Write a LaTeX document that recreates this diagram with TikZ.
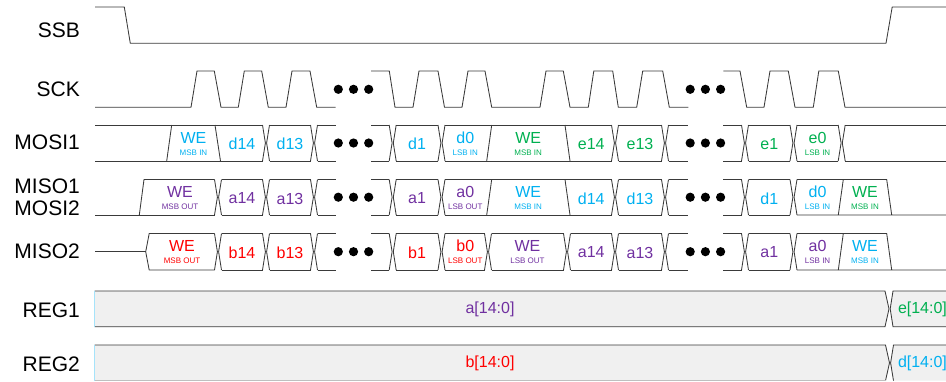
\documentclass[tikz,border=0pt]{standalone}
\usepackage{fontspec}
\setmainfont{Liberation Sans}
\definecolor{cy}{HTML}{00B0F0}
\definecolor{pu}{HTML}{7030A0}
\definecolor{rd}{HTML}{FF0000}
\definecolor{gn}{HTML}{00B050}
\definecolor{wavec}{HTML}{3A3A3A}
\definecolor{regf}{HTML}{F0F0F0}
\tikzset{
  wave/.style={draw=wavec, line width=0.85pt, line join=miter},
  regline/.style={draw=wavec, line width=0.85pt},
  lbl/.style={anchor=east, font=\fontsize{21}{24}\selectfont, inner sep=0pt},
  bigtxt/.style={font=\fontsize{16}{18}\selectfont, inner sep=0pt},
  smalltxt/.style={font=\fontsize{8}{9}\selectfont, inner sep=0pt},
}
\newcommand\Xat[3]{%
  \draw[wave] ({#1-3.5},#2) -- ({#1-0.6},{(#2+#3)/2}) -- ({#1-3.5},#3);
  \draw[wave] ({#1+3.5},#2) -- ({#1+0.6},{(#2+#3)/2}) -- ({#1+3.5},#3);}
\newcommand\Rails[4]{\draw[wave] (#1,#3) -- (#2,#3) (#1,#4) -- (#2,#4);}
\newcommand\Dots[2]{%
  \fill[black] (#1,#2) circle[radius=4.6pt];
  \fill[black] ({#1+15.2},#2) circle[radius=4.6pt];
  \fill[black] ({#1+30.4},#2) circle[radius=4.6pt];}
\newcommand\CellT[6]{%
  \node[bigtxt, text=#4] (#1a) at (#2,{#3+12.7}) {#5};
  \node[smalltxt, text=#4] (#1b) at (#2,{#3+27.4}) {#6};}
\newcommand\CellS[5]{%
  \node[bigtxt, text=#4] (#1) at (#2,{#3+19}) {#5};}
\begin{document}
\begin{tikzpicture}[x=1pt,y=-1pt]
\useasboundingbox (0,0) rectangle (946,381);

% ---------- labels ----------
\node[lbl] (lSSB) at (80,30) {SSB};
\node[lbl] (lSCK) at (80,89.5) {SCK};
\node[lbl] (lMOSI1) at (80,142.5) {MOSI1};
\node[lbl] (lMISO1) at (80,186) {MISO1};
\node[lbl] (lMOSI2) at (80,208.5) {MOSI2};
\node[lbl] (lMISO2) at (80,251.7) {MISO2};
\node[lbl] (lREG1) at (80,310) {REG1};
\node[lbl] (lREG2) at (80,364) {REG2};

% ---------- SSB ----------
\draw[wave] (95,7) -- (124.3,7) -- (130.3,43.3) -- (886,43.3) -- (892.2,7) -- (946,7);

% ---------- SCK ----------
\draw[wave] (95,107.3) -- (191,107.3) -- (197,71) -- (214.3,71) -- (221,107.3)
  -- (238.3,107.3) -- (244.3,71) -- (261.7,71) -- (268.3,107.3)
  -- (286,107.3) -- (292,71) -- (310,71) -- (316.7,107.3) -- (335.7,107.3);
\draw[wave] (371,71) -- (389.3,71) -- (395,107.3) -- (413,107.3) -- (419,71)
  -- (438,71) -- (444.5,107.3) -- (462,107.3) -- (468,71) -- (485,71) -- (491.7,107.3)
  -- (540,107.3) -- (546,71) -- (563.3,71) -- (570,107.3) -- (588.3,107.3)
  -- (593.8,71) -- (612.7,71) -- (618.3,107.3) -- (636.7,107.3) -- (642.7,71)
  -- (662.7,71) -- (669.3,107.3) -- (688.3,107.3);
\draw[wave] (723.3,71) -- (740,71) -- (746.7,107.3) -- (764,107.3) -- (770,71)
  -- (788.3,71) -- (795,107.3) -- (813.3,107.3) -- (818.8,71) -- (838.3,71)
  -- (845,107.3) -- (946,107.3);
\Dots{338.3}{89.3}
\Dots{690.2}{89.3}

% ---------- MOSI1 (t=125, b=161) ----------
\Rails{95}{262.5}{125}{161}
\draw[wave] (166.7,161) -- (171.7,125);
\draw[wave] (215,125) -- (220.5,161);
\Xat{266}{125}{161}
\Rails{269.5}{310.5}{125}{161}
\Xat{314}{125}{161}
\Rails{317.5}{335.7}{125}{161}
\Rails{371}{389.2}{125}{161}
\Xat{392.7}{125}{161}
\Rails{396.2}{438}{125}{161}
\Xat{441.5}{125}{161}
\Rails{445}{611.5}{125}{161}
\draw[wave] (486.7,161) -- (491.7,125);
\draw[wave] (565,125) -- (570,161);
\Xat{615}{125}{161}
\Rails{618.5}{661.5}{125}{161}
\Xat{665}{125}{161}
\Rails{668.5}{688.3}{125}{161}
\Rails{723.3}{741.5}{125}{161}
\Xat{745}{125}{161}
\Rails{748.5}{790}{125}{161}
\Xat{793.5}{125}{161}
\Rails{797}{838.2}{125}{161}
\Xat{841.7}{125}{161}
\Rails{845.2}{946}{125}{161}
\Dots{338.3}{143}
\Dots{690.2}{143}

\CellT{m1we}{193.5}{125}{cy}{WE}{MSB IN}
\CellS{m1d14}{242}{125}{cy}{d14}
\CellS{m1d13}{290}{125}{cy}{d13}
\CellS{m1d1}{417.1}{125}{cy}{d1}
\CellT{m1d0}{465.3}{125}{cy}{d0}{LSB IN}
\CellT{m1weg}{528.2}{125}{gn}{WE}{MSB IN}
\CellS{m1e14}{591.3}{125}{gn}{e14}
\CellS{m1e13}{640}{125}{gn}{e13}
\CellS{m1e1}{769.3}{125}{gn}{e1}
\CellT{m1e0}{817.6}{125}{gn}{e0}{LSB IN}

% ---------- MISO1 / MOSI2 (t=179.5, b=215) ----------
\draw[wave] (95,215) -- (214.5,215);
\draw[wave] (139.3,215) -- (144,179.5) -- (214.5,179.5);
\Xat{218}{179.5}{215}
\Rails{221.5}{262.5}{179.5}{215}
\Xat{266}{179.5}{215}
\Rails{269.5}{310.5}{179.5}{215}
\Xat{314}{179.5}{215}
\Rails{317.5}{335.7}{179.5}{215}
\Rails{371}{389.2}{179.5}{215}
\Xat{392.7}{179.5}{215}
\Rails{396.2}{438}{179.5}{215}
\Xat{441.5}{179.5}{215}
\Rails{445}{611.5}{179.5}{215}
\draw[wave] (486.7,215) -- (491.7,179.5);
\draw[wave] (565,179.5) -- (570,215);
\Xat{615}{179.5}{215}
\Rails{618.5}{661.5}{179.5}{215}
\Xat{665}{179.5}{215}
\Rails{668.5}{688.3}{179.5}{215}
\Rails{723.3}{741.5}{179.5}{215}
\Xat{745}{179.5}{215}
\Rails{748.5}{790}{179.5}{215}
\Xat{793.5}{179.5}{215}
\draw[wave] (797,179.5) -- (886.7,179.5) -- (891.7,215) (797,215) -- (946,215);
\draw[wave] (838.3,215) -- (843.3,179.5);
\Dots{338.3}{197.2}
\Dots{690.2}{197.2}

\CellT{s1we}{180}{179.5}{pu}{WE}{MSB OUT}
\CellS{s1a14}{242}{179.5}{pu}{a14}
\CellS{s1a13}{290}{179.5}{pu}{a13}
\CellS{s1a1}{417.1}{179.5}{pu}{a1}
\CellT{s1a0}{465.3}{179.5}{pu}{a0}{LSB OUT}
\CellT{s1wec}{528.2}{179.5}{cy}{WE}{MSB IN}
\CellS{s1d14}{591.3}{179.5}{cy}{d14}
\CellS{s1d13}{640}{179.5}{cy}{d13}
\CellS{s1d1}{769.3}{179.5}{cy}{d1}
\CellT{s1d0}{817.6}{179.5}{cy}{d0}{LSB IN}
\CellT{s1weg}{865}{179.5}{gn}{WE}{MSB IN}

% ---------- MISO2 (t=233.5, b=270) ----------
\draw[wave] (95,251.75) -- (145.7,251.75);
\draw[wave] (214.5,233.5) -- (149.2,233.5) -- (145.7,251.75) -- (149.2,270) -- (214.5,270);
\Xat{218}{233.5}{270}
\Rails{221.5}{262.5}{233.5}{270}
\Xat{266}{233.5}{270}
\Rails{269.5}{310.5}{233.5}{270}
\Xat{314}{233.5}{270}
\Rails{317.5}{335.7}{233.5}{270}
\Rails{371}{389.2}{233.5}{270}
\Xat{392.7}{233.5}{270}
\Rails{396.2}{438}{233.5}{270}
\Xat{441.5}{233.5}{270}
\Rails{445}{484.5}{233.5}{270}
\Xat{488}{233.5}{270}
\Rails{491.5}{563.5}{233.5}{270}
\Xat{567}{233.5}{270}
\Rails{570.5}{611.5}{233.5}{270}
\Xat{615}{233.5}{270}
\Rails{618.5}{661.5}{233.5}{270}
\Xat{665}{233.5}{270}
\Rails{668.5}{688.3}{233.5}{270}
\Rails{723.3}{741.5}{233.5}{270}
\Xat{745}{233.5}{270}
\Rails{748.5}{790}{233.5}{270}
\Xat{793.5}{233.5}{270}
\draw[wave] (797,233.5) -- (886.7,233.5) -- (891.7,270) (797,270) -- (946,270);
\draw[wave] (838.3,270) -- (843.3,233.5);
\Dots{338.3}{251.7}
\Dots{690.2}{251.7}

\CellT{s2we}{182}{233.5}{rd}{WE}{MSB OUT}
\CellS{s2b14}{242}{233.5}{rd}{b14}
\CellS{s2b13}{290}{233.5}{rd}{b13}
\CellS{s2b1}{417.1}{233.5}{rd}{b1}
\CellT{s2b0}{465.3}{233.5}{rd}{b0}{LSB OUT}
\CellT{s2wep}{527.5}{233.5}{pu}{WE}{LSB OUT}
\CellS{s2a14}{591.3}{233.5}{pu}{a14}
\CellS{s2a13}{640}{233.5}{pu}{a13}
\CellS{s2a1}{769.3}{233.5}{pu}{a1}
\CellT{s2a0}{817.6}{233.5}{pu}{a0}{LSB IN}
\CellT{s2wec}{865}{233.5}{cy}{WE}{MSB IN}

% ---------- REG1 ----------
\fill[regf] (94.5,291) -- (885,291) -- (889,308.85) -- (885,326.7) -- (94.5,326.7) -- cycle;
\draw[regline] (94.5,291) -- (885,291) -- (889,308.85) -- (885,326.7) -- (94.5,326.7);
\draw[draw=cy!35, line width=0.8pt] (94.5,291) -- (94.5,326.7);
\fill[regf] (946,291) -- (893,291) -- (890.2,308.85) -- (893,326.7) -- (946,326.7) -- cycle;
\draw[regline] (946,291) -- (893,291) -- (890.2,308.85) -- (893,326.7) -- (946,326.7);
\node[bigtxt, text=pu] (r1a) at (490,309) {a[14:0]};
\node[bigtxt, text=gn, anchor=west] (r1e) at (897.8,309) {e[14:0]};

% ---------- REG2 ----------
\fill[regf] (94.5,345) -- (885.5,345) -- (889.5,362.85) -- (885.5,380.7) -- (94.5,380.7) -- cycle;
\draw[regline] (94.5,345) -- (885.5,345) -- (889.5,362.85) -- (885.5,380.7);
\draw[draw=black!25, line width=0.8pt] (94.5,380.7) -- (885.5,380.7);
\draw[draw=cy!35, line width=0.8pt] (94.5,345) -- (94.5,380.7);
\fill[regf] (946,345) -- (893.5,345) -- (890.6,362.85) -- (893.5,380.7) -- (946,380.7) -- cycle;
\draw[regline] (946,345) -- (893.5,345) -- (890.6,362.85) -- (893.5,380.7);
\node[bigtxt, text=rd] (r2b) at (490,363) {b[14:0]};
\node[bigtxt, text=cy, anchor=west] (r2d) at (897.8,363) {d[14:0]};
\end{tikzpicture}
\end{document}
